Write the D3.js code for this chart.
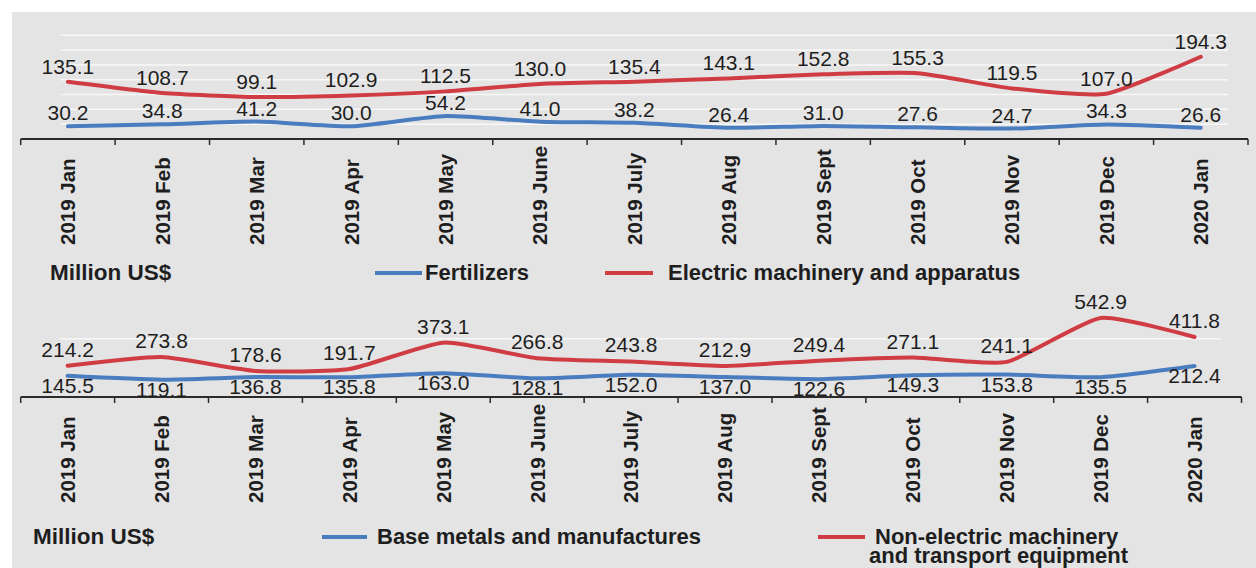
<!DOCTYPE html>
<html>
<head>
<meta charset="utf-8">
<script src="https://cdn.jsdelivr.net/npm/d3@7"></script>
<style>
  body { margin: 0; background: #fff; }
  svg { display: block; font-family: "Liberation Sans", Arial, sans-serif; }
</style>
</head>
<body>
<svg id="chart" width="1256" height="568"></svg>
<script>
// months on both x axes
var months = ['2019 Jan', '2019 Feb', '2019 Mar', '2019 Apr', '2019 May', '2019 June',
  '2019 July', '2019 Aug', '2019 Sept', '2019 Oct', '2019 Nov', '2019 Dec', '2020 Jan'];

// top panel, million US$
var fertilizers = [30.2, 34.8, 41.2, 30.0, 54.2, 41.0, 38.2, 26.4, 31.0, 27.6, 24.7, 34.3, 26.6];
var electricMachinery = [135.1, 108.7, 99.1, 102.9, 112.5, 130.0, 135.4, 143.1, 152.8, 155.3, 119.5, 107.0, 194.3];

// bottom panel, million US$
var baseMetals = [145.5, 119.1, 136.8, 135.8, 163.0, 128.1, 152.0, 137.0, 122.6, 149.3, 153.8, 135.5, 212.4];
var nonElectric = [214.2, 273.8, 178.6, 191.7, 373.1, 266.8, 243.8, 212.9, 249.4, 271.1, 241.1, 542.9, 411.8];

var topGrid = [35, 70, 105, 140, 175, 210, 245];
var bottomGrid = [400];

var RED = '#d03c43';
var BLUE = '#4a7dbf';
var TEXT = '#1e1e1e';

var svg = d3.select('#chart');

svg.append('rect')
  .attr('x', 12).attr('y', 12)
  .attr('width', 1244).attr('height', 556)
  .attr('fill', '#e4e4e4');

function panel(opts) {
  var g = svg.append('g');

  var x = d3.scaleBand()
    .domain(months)
    .range([opts.x0, opts.x1]);

  var y = d3.scaleLinear()
    .domain([0, opts.yMax])
    .range([opts.axisY, opts.yTop]);

  var xPos = function(d, i) {
    return x(months[i]) + x.bandwidth() / 2;
  };

  // faint grid lines
  g.selectAll('line.grid')
    .data(opts.grid)
    .enter()
    .append('line')
    .attr('class', 'grid')
    .attr('x1', opts.x0 + 40)
    .attr('x2', opts.x1 - 20)
    .attr('y1', function(d) { return y(d); })
    .attr('y2', function(d) { return y(d); })
    .attr('stroke', '#ffffff')
    .attr('stroke-opacity', 0.75)
    .attr('stroke-width', 1.5);

  // x axis with ticks at band edges
  var axis = g.append('g')
    .attr('transform', 'translate(0,' + opts.axisY + ')');
  axis.append('line')
    .attr('x1', opts.x0).attr('x2', opts.x1)
    .attr('stroke', '#2b2b2b').attr('stroke-width', 2);
  var edges = months.map(function(m) { return x(m); }).concat([opts.x1]);
  axis.selectAll('line.tick')
    .data(edges)
    .enter()
    .append('line')
    .attr('class', 'tick')
    .attr('x1', function(d) { return d; })
    .attr('x2', function(d) { return d; })
    .attr('y1', 0).attr('y2', 6)
    .attr('stroke', '#2b2b2b').attr('stroke-width', 1.5);

  axis.selectAll('text')
    .data(months)
    .enter()
    .append('text')
    .attr('transform', function(d) {
      return 'translate(' + (x(d) + x.bandwidth() / 2) + ',106) rotate(-90)';
    })
    .attr('dy', '0.36em')
    .attr('text-anchor', 'start')
    .attr('font-size', 20.5)
    .attr('font-weight', 'bold')
    .attr('fill', TEXT)
    .text(function(d) { return d; });

  var line = d3.line()
    .x(xPos)
    .y(function(d) { return y(d); })
    .curve(d3.curveCardinal.tension(0.45));

  opts.series.forEach(function(s) {
    g.append('path')
      .datum(s.values)
      .attr('d', line)
      .attr('fill', 'none')
      .attr('stroke', s.color)
      .attr('stroke-width', 4)
      .attr('stroke-linecap', 'round')
      .attr('stroke-linejoin', 'round');

    g.selectAll(null)
      .data(s.values)
      .enter()
      .append('text')
      .attr('x', xPos)
      .attr('y', function(d) { return y(d) + s.labelDy; })
      .attr('text-anchor', 'middle')
      .attr('font-size', 21)
      .attr('fill', TEXT)
      .text(function(d) { return d3.format('.1f')(d); });
  });

  // legend row
  var lg = g.append('g');
  lg.append('text')
    .attr('x', opts.unitX).attr('y', opts.legendY)
    .attr('font-size', 22.5).attr('font-weight', 'bold').attr('fill', TEXT)
    .text('Million US$');

  opts.series.forEach(function(s) {
    lg.append('line')
      .attr('x1', s.legendX).attr('x2', s.legendX + s.legendLen)
      .attr('y1', opts.legendY - 7).attr('y2', opts.legendY - 7)
      .attr('stroke', s.color).attr('stroke-width', 4);
    var t = lg.append('text')
      .attr('y', opts.legendY)
      .attr('font-size', 22).attr('font-weight', 'bold').attr('fill', TEXT);
    s.name.forEach(function(part, i) {
      t.append('tspan')
        .attr('x', s.textX - i * 6)
        .attr('dy', i === 0 ? 0 : 19)
        .text(part);
    });
  });
}

panel({
  x0: 20.7, x1: 1248,
  axisY: 139, yTop: 12, yMax: 300,
  grid: topGrid,
  unitX: 50, legendY: 280,
  series: [
    { values: electricMachinery, color: RED, labelDy: -8,
      legendX: 605, legendLen: 48, textX: 668,
      name: ['Electric machinery and apparatus'] },
    { values: fertilizers, color: BLUE, labelDy: -6,
      legendX: 375, legendLen: 47, textX: 425,
      name: ['Fertilizers'] }
  ]
});

panel({
  x0: 20.7, x1: 1241.5,
  axisY: 397, yTop: 309.6, yMax: 600,
  grid: bottomGrid,
  unitX: 33, legendY: 544,
  series: [
    { values: nonElectric, color: RED, labelDy: -9,
      legendX: 818, legendLen: 47, textX: 875,
      name: ['Non-electric machinery', 'and transport equipment'] },
    { values: baseMetals, color: BLUE, labelDy: 17,
      legendX: 322, legendLen: 45, textX: 377,
      name: ['Base metals and manufactures'] }
  ]
});
</script>
</body>
</html>
